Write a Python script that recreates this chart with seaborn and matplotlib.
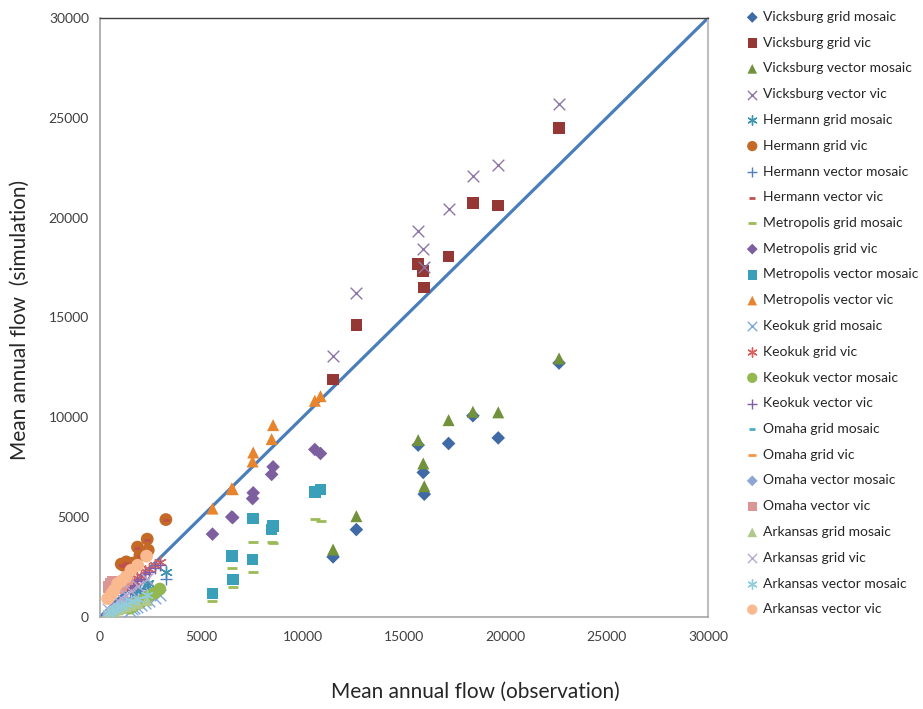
import numpy as np
import pandas as pd
import matplotlib
matplotlib.use("Agg")
import matplotlib.pyplot as plt
import seaborn as sns

# Observed mean annual flow per station (shared by the four model runs)
vicksburg_obs = [11500, 12650, 15700, 15950, 16000, 17200, 18400, 19650, 22650]
hermann_obs = [1050, 1150, 1300, 1640, 1850, 1970, 2330, 2380, 3250]
metropolis_obs = [5550, 6500, 6550, 7530, 7560, 8470, 8540, 10600, 10880]
keokuk_obs = [1500, 1600, 1700, 1850, 2000, 2200, 2400, 2700, 2950]
omaha_obs = [450, 550, 650, 750, 850, 950, 1050, 1200, 1350]
arkansas_obs = [380, 600, 700, 870, 1050, 1280, 1530, 1860, 2300]

# Simulated mean annual flow
vicksburg_grid_mosaic = [3010, 4380, 8610, 7240, 6150, 8690, 10080, 8970, 12720]
vicksburg_grid_vic = [11900, 14620, 17680, 17330, 16510, 18050, 20750, 20600, 24500]
vicksburg_vector_mosaic = [3380, 5050, 8860, 7690, 6550, 9860, 10280, 10250, 12950]
vicksburg_vector_vic = [13070, 16210, 19330, 18450, 17540, 20440, 22090, 22640, 25680]

hermann_grid_mosaic = [650, 750, 850, 1100, 1300, 1350, 1600, 1700, 2250]
hermann_grid_vic = [2650, 2590, 2760, 2700, 3500, 3090, 3900, 3350, 4880]
hermann_vector_mosaic = [550, 600, 700, 900, 1050, 1100, 1300, 1400, 1900]
hermann_vector_vic = [2600, 2550, 2700, 2650, 3450, 3050, 3850, 3300, 4850]

metropolis_grid_mosaic = [800, 2430, 1500, 2260, 3760, 3760, 3710, 4930, 4800]
metropolis_grid_vic = [4150, 5010, 4980, 5930, 6220, 7140, 7520, 8390, 8190]
metropolis_vector_mosaic = [1170, 3040, 1870, 2880, 4930, 4380, 4550, 6270, 6390]
metropolis_vector_vic = [5430, 6440, 6400, 7790, 8240, 8910, 9610, 10830, 11060]

keokuk_grid_mosaic = [300, 380, 450, 500, 600, 700, 800, 950, 1100]
keokuk_grid_vic = [1500, 1650, 1800, 1950, 2050, 2300, 2400, 2600, 2750]
keokuk_vector_mosaic = [450, 520, 600, 680, 750, 900, 1050, 1200, 1400]
keokuk_vector_vic = [1350, 1500, 1600, 1800, 1900, 2150, 2250, 2450, 2600]

omaha_grid_mosaic = [250, 300, 380, 420, 500, 560, 620, 700, 800]
omaha_grid_vic = [900, 1050, 1150, 1250, 1350, 1450, 1550, 1700, 1850]
omaha_vector_mosaic = [200, 260, 330, 380, 440, 500, 560, 640, 720]
omaha_vector_vic = [1500, 1650, 1750, 1600, 1450, 1700, 1550, 1800, 1900]

arkansas_grid_mosaic = [150, 250, 300, 380, 450, 520, 600, 700, 850]
arkansas_grid_vic = [400, 550, 650, 800, 950, 1100, 1300, 1550, 1900]
arkansas_vector_mosaic = [200, 320, 380, 480, 560, 650, 780, 900, 1100]
arkansas_vector_vic = [920, 1200, 1340, 1670, 1800, 2000, 2340, 2590, 3050]

axis_ticks = [0, 5000, 10000, 15000, 20000, 25000, 30000]

ASTER = (6, 2, 0)
series = [
    ("Vicksburg grid mosaic", vicksburg_obs, vicksburg_grid_mosaic, "D", "#3F6AA6", 48),
    ("Vicksburg grid vic", vicksburg_obs, vicksburg_grid_vic, "s", "#953735", 70),
    ("Vicksburg vector mosaic", vicksburg_obs, vicksburg_vector_mosaic, "^", "#71913A", 75),
    ("Vicksburg vector vic", vicksburg_obs, vicksburg_vector_vic, "x", "#8C75A8", 70),
    ("Hermann grid mosaic", hermann_obs, hermann_grid_mosaic, ASTER, "#3D96AE", 70),
    ("Hermann grid vic", hermann_obs, hermann_grid_vic, "o", "#C46A26", 85),
    ("Hermann vector mosaic", hermann_obs, hermann_vector_mosaic, "+", "#4F81BD", 70),
    ("Hermann vector vic", hermann_obs, hermann_vector_vic, "_", "#C0504D", 25),
    ("Metropolis grid mosaic", metropolis_obs, metropolis_grid_mosaic, "_", "#9BBB59", 50),
    ("Metropolis grid vic", metropolis_obs, metropolis_grid_vic, "D", "#7D5FA0", 48),
    ("Metropolis vector mosaic", metropolis_obs, metropolis_vector_mosaic, "s", "#3A9FB8", 70),
    ("Metropolis vector vic", metropolis_obs, metropolis_vector_vic, "^", "#E8842E", 75),
    ("Keokuk grid mosaic", keokuk_obs, keokuk_grid_mosaic, "x", "#7EA6E0", 70),
    ("Keokuk grid vic", keokuk_obs, keokuk_grid_vic, ASTER, "#D9605C", 70),
    ("Keokuk vector mosaic", keokuk_obs, keokuk_vector_mosaic, "o", "#93B850", 85),
    ("Keokuk vector vic", keokuk_obs, keokuk_vector_vic, "+", "#7F5FA8", 70),
    ("Omaha grid mosaic", omaha_obs, omaha_grid_mosaic, "_", "#4BACC6", 25),
    ("Omaha grid vic", omaha_obs, omaha_grid_vic, "_", "#F79646", 50),
    ("Omaha vector mosaic", omaha_obs, omaha_vector_mosaic, "D", "#8EA6D6", 48),
    ("Omaha vector vic", omaha_obs, omaha_vector_vic, "s", "#D99694", 70),
    ("Arkansas grid mosaic", arkansas_obs, arkansas_grid_mosaic, "^", "#B0C98A", 75),
    ("Arkansas grid vic", arkansas_obs, arkansas_grid_vic, "x", "#B8AAD0", 70),
    ("Arkansas vector mosaic", arkansas_obs, arkansas_vector_mosaic, ASTER, "#92CDDC", 70),
    ("Arkansas vector vic", arkansas_obs, arkansas_vector_vic, "o", "#FAB98E", 85),
]

sns.set_style("white")
plt.rcParams["font.family"] = ["Lato", "DejaVu Sans"]

fig = plt.figure(figsize=(9.23, 7.09), dpi=100)
ax = fig.add_axes([100 / 923, 1 - 617 / 709, 608 / 923, 599 / 709])

# 1:1 reference line
ax.plot([axis_ticks[0], axis_ticks[-1]], [axis_ticks[0], axis_ticks[-1]],
        color="#4A7EBB", lw=2.3, zorder=1.5)

line_art = {"x", "+", "_", ASTER}
for name, obs, sim, marker, color, size in series:
    df = pd.DataFrame({"obs": obs, "sim": sim})
    if marker in line_art:
        lw = 2.0 if marker == "_" else 1.0
        sns.scatterplot(data=df, x="obs", y="sim", ax=ax, marker=marker,
                        color=color, s=size, linewidth=lw, label=name, zorder=3)
    else:
        sns.scatterplot(data=df, x="obs", y="sim", ax=ax, marker=marker,
                        color=color, s=size, edgecolor="none", linewidth=0,
                        label=name, zorder=3)

ax.set_xlim(axis_ticks[0], axis_ticks[-1])
ax.set_ylim(axis_ticks[0], axis_ticks[-1])
ax.set_xticks(axis_ticks)
ax.set_yticks(axis_ticks)
ax.set_xticklabels([str(t) for t in axis_ticks])
ax.set_yticklabels([str(t) for t in axis_ticks])
ax.tick_params(axis="both", direction="out", length=5, width=1, color="#A6A6A6",
               labelsize=10, labelcolor="#404040")
ax.tick_params(axis="x", pad=5)
ax.tick_params(axis="y", pad=3)
ax.set_xlabel("")
ax.set_ylabel("")

for side in ["left", "bottom"]:
    ax.spines[side].set_color("#A6A6A6")
    ax.spines[side].set_linewidth(1.2)
ax.spines["top"].set_color("#404040")
ax.spines["top"].set_linewidth(1.0)
ax.spines["right"].set_color("#BFBFBF")
ax.spines["right"].set_linewidth(1.5)

fig.text(0.515, 1 - 692 / 709, "Mean annual flow (observation)", ha="center",
         va="center", fontsize=15, color="#262626")
fig.text(20 / 923, 1 - 320 / 709, "Mean annual flow  (simulation)", ha="center",
         va="center", rotation=90, fontsize=15, color="#262626")

handles, labels = ax.get_legend_handles_labels()
ax.get_legend().remove()
fig.legend(handles, labels, loc="upper left", bbox_to_anchor=(746 / 923, 1 - 11 / 709),
           frameon=False, fontsize=10, handlelength=0.9, handletextpad=0.35,
           labelspacing=0.99, borderpad=0, borderaxespad=0, markerscale=0.8)

fig.savefig("out.png", dpi=100, facecolor="white")
